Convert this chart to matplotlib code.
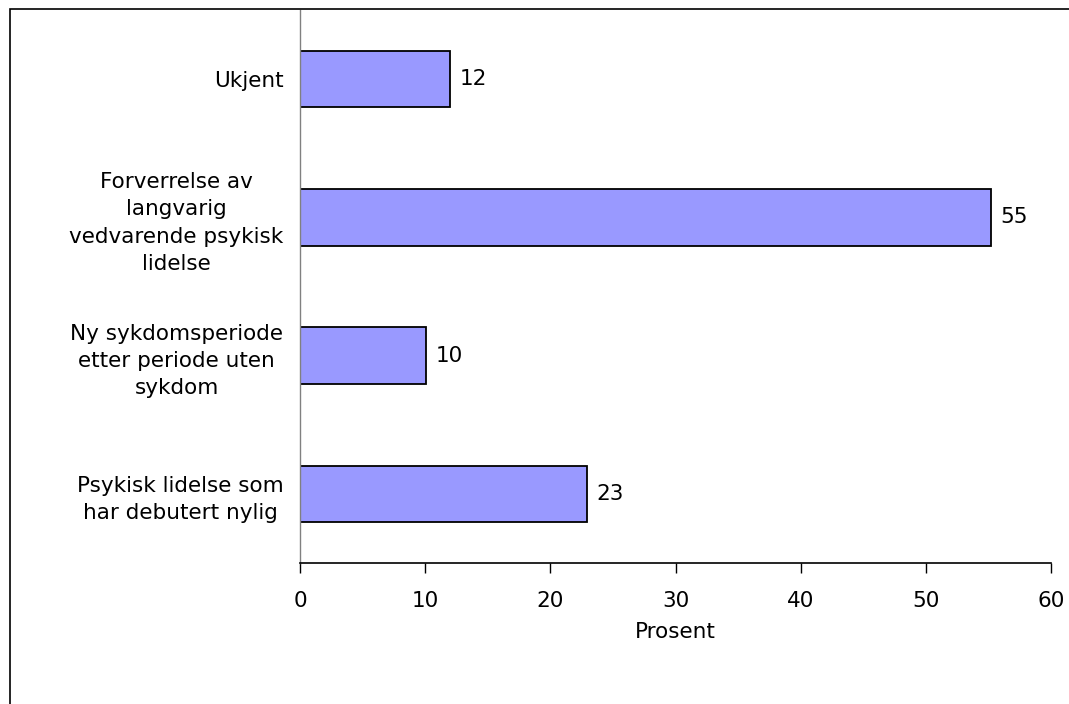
import matplotlib.pyplot as plt
from matplotlib.patches import Rectangle

# data
categories = [
    "Psykisk lidelse som\nhar debutert nylig",
    "Ny sykdomsperiode\netter periode uten\nsykdom",
    "Forverrelse av\nlangvarig\nvedvarende psykisk\nlidelse",
    "Ukjent",
]
values = [22.9, 10.1, 55.2, 12.0]
xticks = [0, 10, 20, 30, 40, 50, 60]

FS = 15.5

fig = plt.figure(figsize=(10.69, 7.04), dpi=100)
ax = fig.add_axes([300 / 1069, 1 - 563 / 704, 751 / 1069, 553 / 704])

pos = list(range(len(categories)))
bars = ax.barh(pos, values, height=0.41, color="#9999FF",
               edgecolor="black", linewidth=1.3)

for b, v in zip(bars, values):
    ax.text(b.get_width() + 0.75, b.get_y() + b.get_height() / 2,
            f"{v:.0f}", va="center", ha="left", fontsize=FS)

ax.set_xlim(0, 60)
ax.set_ylim(-0.5, len(categories) - 0.5)
ax.set_xticks(xticks)
ax.set_xticklabels([str(t) for t in xticks], fontsize=FS)
ax.set_yticks(pos)
ax.set_yticklabels(categories, fontsize=FS, multialignment="center",
                   linespacing=1.45)
ax.tick_params(axis="y", length=0, pad=12)
ax.tick_params(axis="x", length=7, width=1, direction="out", pad=13)
ax.set_xlabel("Prosent", fontsize=FS, labelpad=8)

for s in ["top", "right"]:
    ax.spines[s].set_visible(False)
ax.spines["left"].set_color("#808080")
ax.spines["left"].set_linewidth(1)
ax.spines["bottom"].set_linewidth(1.2)

# outer frame (right and bottom edges fall outside the picture)
fig.patches.append(Rectangle((10 / 1069, -0.05), 1.2, 1 - 9 / 704 + 0.05,
                             transform=fig.transFigure, fill=False,
                             edgecolor="black", linewidth=1.2))

fig.savefig("out.png", dpi=100)
